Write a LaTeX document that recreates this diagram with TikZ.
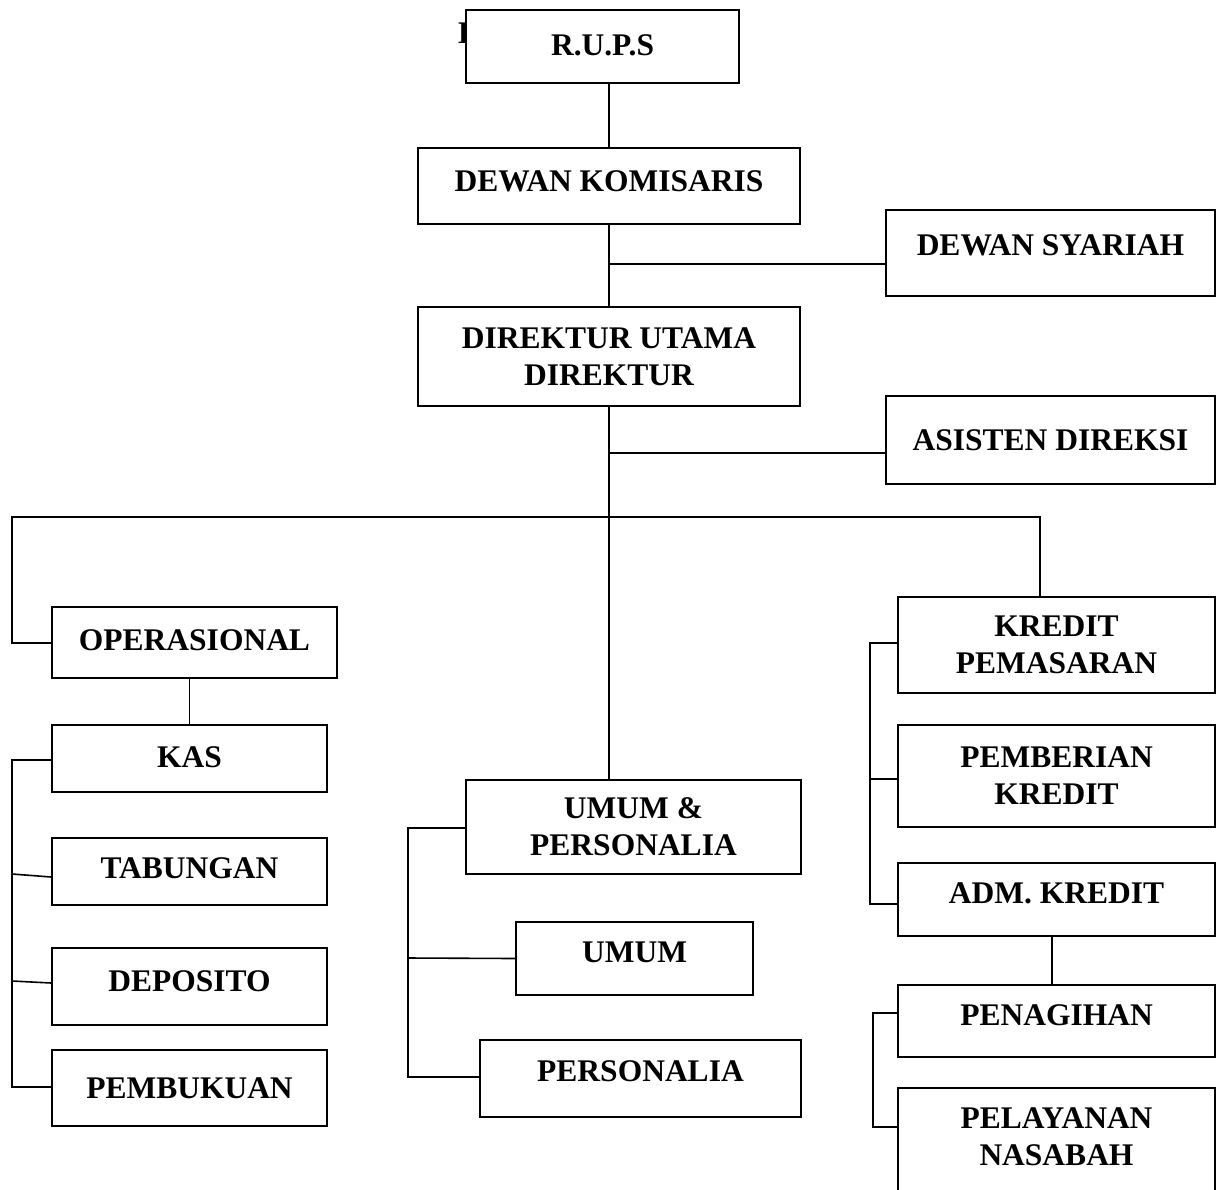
\documentclass[tikz,border=0pt]{standalone}
\usepackage{fontspec}
\setmainfont{Liberation Serif}
\begin{document}
\begin{tikzpicture}[x=1pt,y=-1pt,
  box/.style={draw, line width=1.6pt, fill=white, inner sep=0pt, align=center,
    font=\fontsize{31.5}{37}\selectfont\bfseries},
  conn/.style={line width=1.6pt}]
\useasboundingbox (0,0) rectangle (1218,1189);
\clip (0,0) rectangle (1218,1189);
% hidden title glyph behind R.U.P.S box
\node[anchor=base west, inner sep=0pt, font=\fontsize{31.5}{37}\selectfont\bfseries] (ttl) at (458,43) {B};
% boxes
\node[box, minimum width=273pt, minimum height=73pt, text depth=2pt] (rups) at (602.5,46.5) {R.U.P.S};
\node[box, minimum width=382pt, minimum height=76pt, text depth=10pt] (dk) at (609,186) {DEWAN KOMISARIS};
\node[box, minimum width=329pt, minimum height=86pt, text depth=16pt] (ds) at (1050.5,253) {DEWAN SYARIAH};
\node[box, minimum width=382pt, minimum height=99pt] (dir) at (609,356.5) {DIREKTUR UTAMA\\DIREKTUR};
\node[box, minimum width=329pt, minimum height=88pt] (asd) at (1050.5,440) {ASISTEN DIREKSI};
\node[box, minimum width=285pt, minimum height=71pt, text depth=4pt] (ops) at (194.5,642.5) {OPERASIONAL};
\node[box, minimum width=275pt, minimum height=67pt, text depth=2pt] (kas) at (189.5,758.5) {KAS};
\node[box, minimum width=275pt, minimum height=67pt, text depth=6pt] (tab) at (189.5,871.5) {TABUNGAN};
\node[box, minimum width=275pt, minimum height=77pt, text depth=10pt] (dep) at (189.5,986.5) {DEPOSITO};
\node[box, minimum width=275pt, minimum height=76pt] (pbk) at (189.5,1088) {PEMBUKUAN};
\node[box, minimum width=335pt, minimum height=94pt] (uper) at (633.5,827) {UMUM \&\\PERSONALIA};
\node[box, minimum width=237pt, minimum height=73pt, text depth=12pt] (umum) at (634.5,958.5) {UMUM};
\node[box, minimum width=321pt, minimum height=77pt, text depth=14pt] (pers) at (640.5,1078.5) {PERSONALIA};
\node[box, minimum width=317pt, minimum height=96pt] (kp) at (1056.5,645) {KREDIT\\PEMASARAN};
\node[box, minimum width=317pt, minimum height=102pt] (pk) at (1056.5,776) {PEMBERIAN\\KREDIT};
\node[box, minimum width=317pt, minimum height=73pt, text depth=12pt] (adm) at (1056.5,899.5) {ADM. KREDIT};
\node[box, minimum width=317pt, minimum height=72pt, text depth=12pt] (pen) at (1056.5,1021) {PENAGIHAN};
\node[box, minimum width=317pt, minimum height=122pt, text depth=24pt] (pel) at (1056.5,1149) {PELAYANAN\\NASABAH};
% junction coordinates
\coordinate (jds) at (609,264);
\coordinate (jas) at (609,453);
\coordinate (hl) at (12,517);
\coordinate (hr) at (1040,517);
\coordinate (lops) at (12,643);
\coordinate (lk) at (12,760);
\coordinate (lpb) at (12,1087);
\coordinate (ut) at (408,828);
\coordinate (ub) at (408,1077);
\coordinate (kt) at (870,643);
\coordinate (kb) at (870,904);
\coordinate (pt) at (873,1013);
\coordinate (pb) at (873,1127);
% connectors
\draw[conn] (rups.south -| dk.north) -- (dk.north);
\draw[conn] (dk.south) -- (dir.north);
\draw[conn] (jds) -- (jds -| ds.west);
\draw[conn] (dir.south) -- (dir.south |- uper.north);
\draw[conn] (jas) -- (jas -| asd.west);
\draw[conn] (ops.west |- lops) -- (lops) -- (hl) -- (hr) -- (hr |- kp.north);
\draw[conn] (ops.south -| kas.north) -- (kas.north);
\draw[conn] (kas.west |- lk) -- (lk) -- (lpb) -- (pbk.west |- lpb);
\draw[conn] (12,874) -- (tab.west |- 0,877);
\draw[conn] (12,981) -- (dep.west |- 0,983);
\draw[conn] (uper.west |- ut) -- (ut) -- (ub) -- (pers.west |- ub);
\draw[conn] (408,958) -- (umum.west);
\draw[conn] (kp.west |- kt) -- (kt) -- (kb) -- (adm.west |- kb);
\draw[conn] (870,779) -- (pk.west |- 0,779);
\draw[conn] (adm.south -| 1052,0) -- (pen.north -| 1052,0);
\draw[conn] (pen.west |- pt) -- (pt) -- (pb) -- (pel.west |- pb);
\end{tikzpicture}
\end{document}
